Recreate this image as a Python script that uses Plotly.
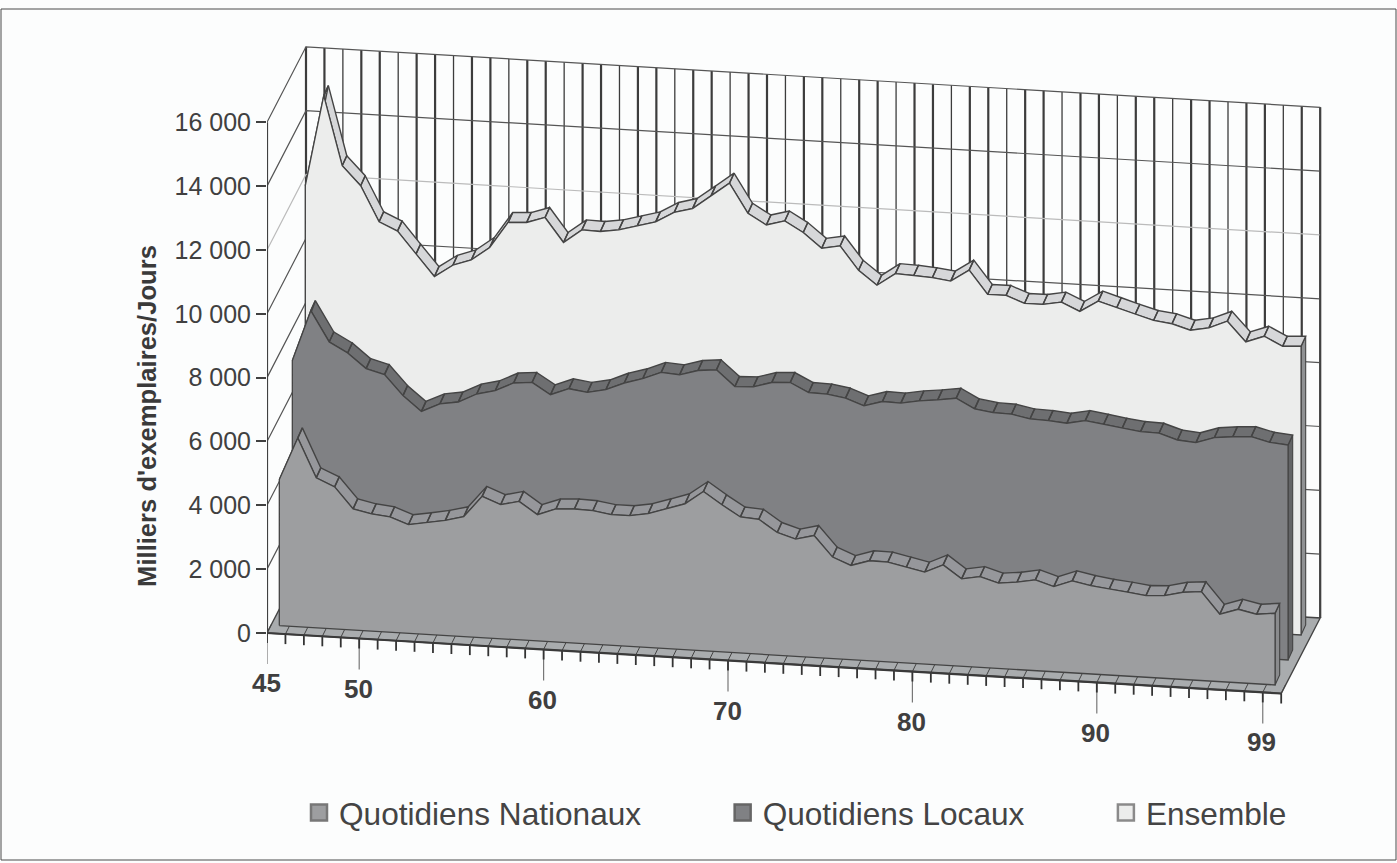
import plotly.graph_objects as go

# ---------- data (thousands of copies per day, 1945-1999) ----------
years = list(range(1945, 2000))
nationaux = [4573,5913,4695,4447,3793,3671,3611,3401,3498,3605,3755,4426,4200,4338,3956,4169,4203,4184,4094,4097,
             4194,4382,4573,4992,4610,4263,4225,3846,3674,3821,3179,2950,3132,3126,3000,2878,3141,2737,2844,2672,
             2737,2844,2668,2881,2769,2690,2631,2559,2590,2731,2784,2111,2302,2180,2246]
locaux = [7517,9117,8171,7861,7404,7251,6627,6167,6436,6530,6815,6953,7229,7282,6931,7153,7072,7191,7435,7604,
          7836,7796,7965,8021,7532,7558,7727,7761,7482,7467,7376,7169,7338,7323,7426,7492,7579,7279,7197,7182,
          7069,7050,7003,7119,7041,6950,6878,6862,6684,6634,6825,6890,6925,6784,6734]
ensemble = [12214,15071,12909,12316,11221,10964,10277,9609,9998,10198,10622,11441,11475,11666,10917,11347,11331,11416,11576,11735,
            12065,12222,12652,13085,12178,11845,12005,11676,11218,11325,10597,10161,10562,10543,10503,10431,10810,10082,10085,9869,
            9872,9979,9722,10079,9907,9731,9577,9508,9339,9449,9690,9078,9289,9009,9044]
value_ticks = [0, 2000, 4000, 6000, 8000, 10000, 12000, 14000, 16000]
value_tick_labels = ["0", "2 000", "4 000", "6 000", "8 000", "10 000", "12 000", "14 000", "16 000"]
year_labels = {1945: "45", 1950: "50", 1960: "60", 1970: "70", 1980: "80", 1990: "90", 1999: "99"}
names = ["Quotidiens Nationaux", "Quotidiens Locaux", "Ensemble"]

# ---------- oblique 3-D look: scale factors ----------
W, H = 1397, 863
LEFT = 267
BOTTOM = 31
PX_CAT = 18.44
PX_VAL = 510.7 / 16000
Y0_PX = 633
SHEAR = 1.1          # px the floor drops per category
DEPTH = (39, 75.5)   # px of full depth
SERIES_OFF = [(3.1, 8), (16.1, 33), (29.1, 58)]
RIBBON = (4.6, 10)
N = len(years)
DARK = "#444444"

def prj(c, v, ox=0, oy=0):
    """category position, value, on-screen depth offset -> axis coordinates"""
    return c + ox / PX_CAT, v + (oy - c * SHEAR) / PX_VAL

def seg(x, y, color, width=1.0):
    return go.Scatter(x=x, y=y, mode="lines", line=dict(color=color, width=width),
                      hoverinfo="skip", showlegend=False)

def poly(points, fill, line=DARK, width=1.2):
    x, y = [], []
    for p in points:
        for a, b in p:
            x.append(a); y.append(b)
        x.append(p[0][0]); y.append(p[0][1])
        x.append(None); y.append(None)
    return go.Scatter(x=x, y=y, mode="lines", fill="toself", fillcolor=fill,
                      line=dict(color=line, width=width), hoverinfo="skip", showlegend=False)

traces = []

# floor
traces.append(poly([[prj(0, 0), prj(N, 0), prj(N, 0, *DEPTH), prj(0, 0, *DEPTH)]], "#a9acae", "#444444", 1.4))

# back wall and left wall grid
for c in range(N + 1):
    a, b = prj(c, 0, *DEPTH), prj(c, 16000, *DEPTH)
    traces.append(seg([a[0], b[0]], [a[1], b[1]], "#3c3c3c", 2.2 if c % 3 != 2 else 1.3))
for v in value_ticks[1:]:
    col = "#bbbbbb" if v == 12000 else "#555555"
    a, b, d = prj(0, v), prj(0, v, *DEPTH), prj(N, v, *DEPTH)
    traces.append(seg([a[0], b[0], d[0]], [a[1], b[1], d[1]], col, 1.2))
a, b = prj(N, 0, *DEPTH), prj(N, 16000, *DEPTH)
traces.append(seg([a[0], b[0]], [a[1], b[1]], "#444444", 1.2))

# value axis line
a, b = prj(0, 0), prj(0, 16000)
traces.append(seg([a[0], b[0]], [a[1], b[1]], "#404040", 2.2))

# floor category marks, ticks under the front edge
for k, yr in enumerate(years + [2000]):
    a, b = prj(k, 0), prj(k, 0, 4.3, 8.7)
    traces.append(seg([a[0], b[0]], [a[1], b[1]], DARK, 1.0))
    a, b = prj(k, 0), prj(k, 0, 0, -10)
    if yr in year_labels:
        d = prj(k, 0, 0, -31)
        traces.append(seg([a[0], d[0]], [a[1], d[1]], "#777777", 1.2))
    traces.append(seg([a[0], b[0]], [a[1], b[1]], "#333333", 1.8))
a, b = prj(0, 0), prj(N, 0)
traces.append(seg([a[0], b[0]], [a[1], b[1]], "#3a3a3a", 2.2))

# the three layers, back to front
layers = [
    (ensemble, *SERIES_OFF[2], "#ecedec", "#d6d7d9", "#8f9193"),
    (locaux,   *SERIES_OFF[1], "#808184", "#6e6f71", "#636466"),
    (nationaux,*SERIES_OFF[0], "#9d9ea0", "#96979b", "#8a8b8d"),
]
for vals, ox, oy, face, top, side in layers:
    cats = [i + 0.5 for i in range(N)]
    front = [prj(c, v, ox, oy) for c, v in zip(cats, vals)]
    back = [prj(c, v, ox + RIBBON[0], oy + RIBBON[1]) for c, v in zip(cats, vals)]
    # right-hand end cap
    c_end = cats[-1]
    traces.append(poly([[prj(c_end, 0, ox, oy), front[-1], back[-1],
                         prj(c_end, 0, ox + RIBBON[0], oy + RIBBON[1])]], side, DARK, 1.1))
    # top ribbon
    traces.append(poly([[front[i], front[i + 1], back[i + 1], back[i]] for i in range(N - 1)], top, DARK, 1.4))
    # front face
    face_pts = [prj(cats[0], 0, ox, oy)] + front + [prj(c_end, 0, ox, oy)]
    traces.append(poly([face_pts], face, DARK, 1.3))

# legend entries
legend_fill = ["#9d9ea0", "#808184", "#ecedec"]
legend_edge = ["#777777", "#666666", "#8a8a8a"]
tails = ["\u00a0" * 8 + "\u2009", "\u00a0" * 8 + "\u2009", ""]
for nm, colr, edge, tail in zip(names, legend_fill, legend_edge, tails):
    traces.append(go.Scatter(x=[None], y=[None], mode="markers", name=nm + tail,
                             marker=dict(symbol="square", size=16, color=colr,
                                         line=dict(color=edge, width=2.5))))

fig = go.Figure(traces)

annots = []
for k, yr in enumerate(years):
    if yr in year_labels:
        x, y = prj(k, 0, 0, -50)
        annots.append(dict(x=x, y=y, xref="x", yref="y", text="<b>%s</b>" % year_labels[yr], showarrow=False,
                           xanchor="center", yanchor="middle", xshift=-1,
                           font=dict(family="Liberation Sans", size=26, color="#3f3f3f")))

plot_w, plot_h = W - LEFT, H - BOTTOM
def px(xp): return (xp - LEFT) / plot_w
def py(yp): return 1 - yp / plot_h

fig.update_layout(
    width=W, height=H, autosize=False,
    margin=dict(l=LEFT, r=0, t=0, b=BOTTOM, pad=0),
    paper_bgcolor="#fcfdfd", plot_bgcolor="rgba(0,0,0,0)",
    xaxis=dict(range=[0, plot_w / PX_CAT], visible=False, fixedrange=True),
    yaxis=dict(range=[(Y0_PX - plot_h) / PX_VAL, Y0_PX / PX_VAL], tickmode="array",
               tickvals=value_ticks, ticktext=value_tick_labels, ticks="outside", ticklen=10,
               tickwidth=2, tickcolor="#404040", showgrid=False, zeroline=False, showline=False,
               fixedrange=True, tickfont=dict(family="Liberation Sans", size=25, color="#404040"),
               title=dict(text="<b>Milliers d'exemplaires/Jours</b>", standoff=10,
                          font=dict(family="Liberation Sans", size=25.6, color="#3a3a3a"))),
    legend=dict(orientation="h", x=px(299), y=py(813), xanchor="left", yanchor="middle",
                bgcolor="rgba(0,0,0,0)", borderwidth=0, itemwidth=30,
                font=dict(family="Liberation Sans", size=31.6, color="#444444")),
    annotations=annots,
    shapes=[dict(type="rect", xref="paper", yref="paper", x0=px(1), x1=px(1396), y0=py(860), y1=py(9),
                 line=dict(color="#4a4a4a", width=1), fillcolor="rgba(0,0,0,0)", layer="below")],
)
fig.write_html("out.html", config=dict(displayModeBar=False),
               post_script="document.body.style.margin='0';document.body.style.overflow='hidden';")
